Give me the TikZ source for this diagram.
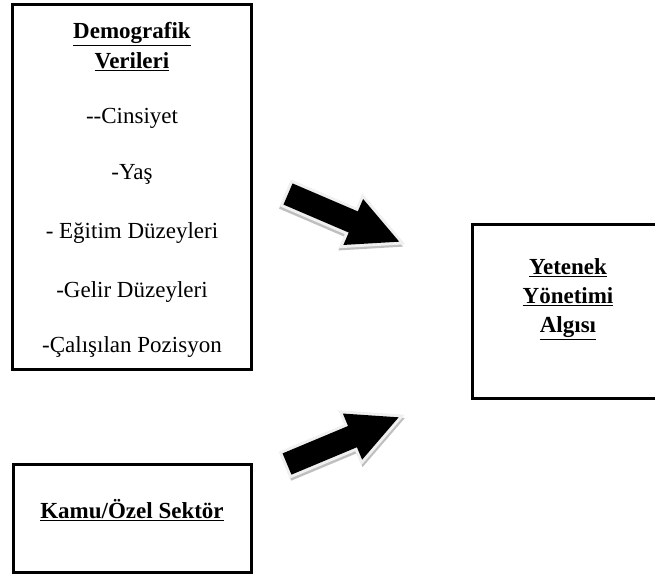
\documentclass[tikz,border=0pt]{standalone}
\usepackage{fontspec}
\setmainfont{Liberation Serif}
\usetikzlibrary{positioning}

\begin{document}
\begin{tikzpicture}[x=1pt,y=-1pt,
    box/.style={draw,line width=3pt,inner sep=0pt},
    txt/.style={align=center,font=\fontsize{23}{29}\selectfont},
    head/.style={txt,font=\fontsize{23}{29}\selectfont\bfseries},
    arrowshape/.style={insert path={(0,-11.5) -- (71,-11.5) -- (71,-25) -- (121,0) -- (71,25) -- (71,11.5) -- (0,11.5) -- cycle}},
    blockarrow/.pic={
      \path[fill=gray!50,draw=gray!50,line width=5pt,yshift=-3pt,arrowshape];
      \path[fill=gray!12,draw=gray!12,line width=6pt,arrowshape];
      \path[fill=black,arrowshape];
    }]
    \useasboundingbox (0,0) rectangle (655,579);

    \def \Arrows {
      288/194/-23.2,
      287/464/22.7}

    \node[box,minimum width=239pt,minimum height=365pt] (demog) at (132,187) {};
    \node[box,minimum width=192pt,minimum height=174pt] (yetenek) at (568,311) {};
    \node[box,minimum width=238pt,minimum height=108pt] (kamu) at (132,518) {};

    \node[txt] (demogtxt) at ([yshift=-3pt]demog.center) {\textbf{\underline{Demografik}}\\[1pt]
      \textbf{\underline{Verileri}}\\[26pt]
      -{}-Cinsiyet\\[27pt]
      -Yaş\\[30pt]
      - Eğitim Düzeyleri\\[30pt]
      -Gelir Düzeyleri\\[26pt]
      -Çalışılan Pozisyon};
    \node[head] (yetenektxt) at ([yshift=12pt]yetenek.center) {\underline{Yetenek}\\
      \underline{Yönetimi}\\
      \underline{Algısı}};
    \node[head] (kamutxt) at ([yshift=8pt]kamu.center) {\underline{Kamu/Özel Sektör}};

    \foreach \x / \y / \a in \Arrows {
      \pic[rotate=\a] at (\x,\y) {blockarrow};
    }
  \end{tikzpicture}
\end{document}
